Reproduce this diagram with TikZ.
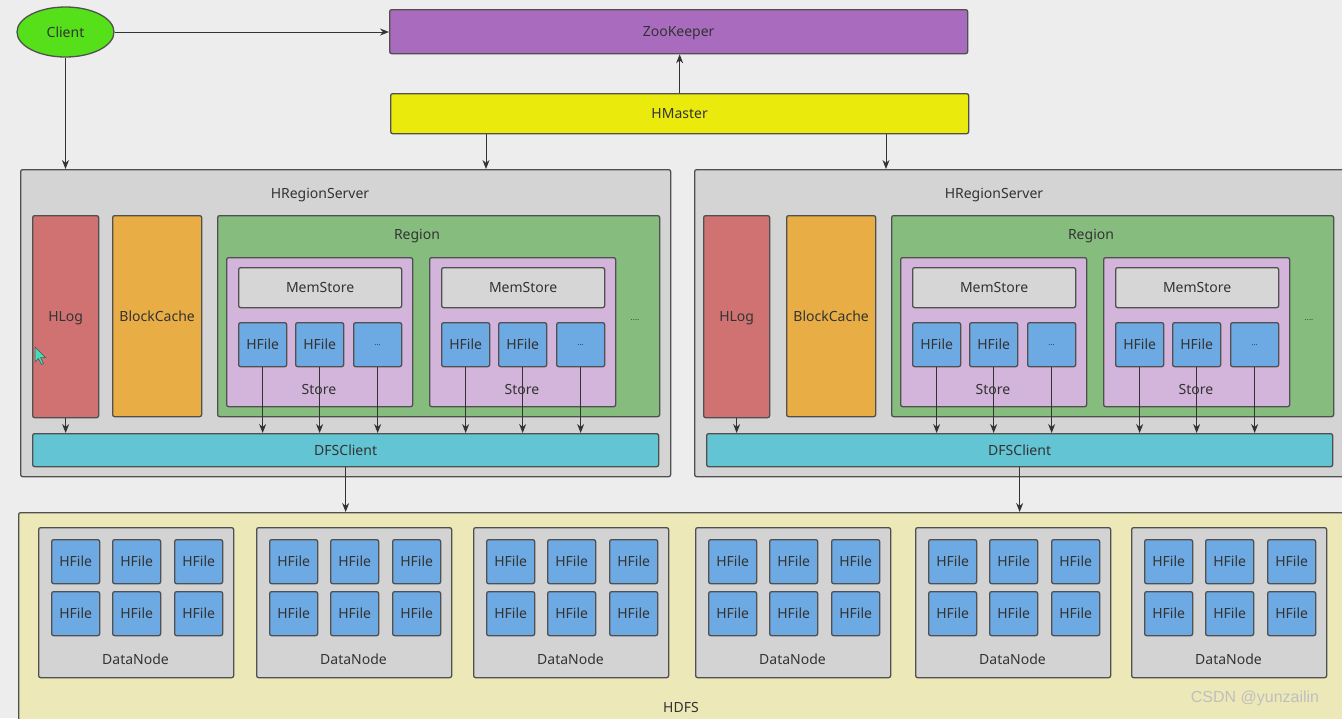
\documentclass[tikz,border=0pt]{standalone}
\usepackage{fontspec}
\setmainfont{Noto Sans}
\usetikzlibrary{arrows.meta,calc,shapes.geometric}
\definecolor{bgc}{HTML}{EDEDED}
\definecolor{linec}{HTML}{505050}
\definecolor{txtc}{HTML}{333333}
\definecolor{clientc}{HTML}{55E01A}
\definecolor{zkc}{HTML}{A96BBE}
\definecolor{hmc}{HTML}{EAEA0C}
\definecolor{rsc}{HTML}{D4D4D4}
\definecolor{hlogc}{HTML}{D07272}
\definecolor{bcc}{HTML}{E8AD45}
\definecolor{regc}{HTML}{86BD7E}
\definecolor{storec}{HTML}{D3B4DB}
\definecolor{memc}{HTML}{D6D6D6}
\definecolor{hfc}{HTML}{6DAAE3}
\definecolor{dfsc}{HTML}{63C4D3}
\definecolor{hdfsc}{HTML}{EDE8B8}
\definecolor{dnc}{HTML}{D3D3D3}
\definecolor{cursc}{HTML}{3FE0B8}
\newcommand\bx[7]{\node[box,fill=#6,minimum width=#4pt,minimum height=#5pt] (#1) at (#2,#3) {#7};}
\begin{document}
\begin{tikzpicture}[x=1pt,y=-1pt,
  box/.style={draw=linec,line width=1.3pt,rounded corners=2pt,inner sep=0pt,anchor=north west,text=txtc,font=\fontsize{14}{16}\selectfont,text depth=0pt},
  lbl/.style={text=txtc,font=\fontsize{14}{16}\selectfont,inner sep=0pt},
  dots/.style={font=\fontsize{8}{9}\selectfont},
  arr/.style={draw=txtc,line width=1pt,-{Stealth[length=9pt,width=7pt]}}]
\useasboundingbox (0,0) rectangle (1342,718);
\clip (0,0) rectangle (1342,718);
\fill[bgc] (0,0) rectangle (1342,718);

% top
\node[draw=linec,line width=1.3pt,fill=clientc,ellipse,minimum width=97pt,minimum height=50pt,inner sep=0pt,text=txtc,font=\fontsize{14}{16}\selectfont] (client) at (65.5,32) {Client};
\bx{zk}{389}{9}{578}{44}{zkc}{ZooKeeper}
\bx{hm}{390}{93}{578}{40}{hmc}{HMaster}

% region servers
\foreach \s/\o/\ho/\w in {1/0/0/650,2/674/671/660}{
  \bx{rs\s}{20+\o}{169}{\w}{307}{rsc}{}
  \node[lbl] (rsl\s) at (320+\o,195) {HRegionServer};
  \bx{hlog\s}{32+\ho}{215}{66}{202}{hlogc}{HLog}
  \bx{bc\s}{112+\o}{215}{89}{201}{bcc}{BlockCache}
  \bx{reg\s}{217+\o}{215}{442}{201}{regc}{}
  \node[lbl] (regl\s) at (417+\o,236) {Region};
  \node[lbl,dots] (regd\s) at (635+\o,320) {....};
  \foreach \st/\sx in {a/0,b/203}{
    \bx{st\s\st}{226+\o+\sx}{257}{186}{149}{storec}{}
    \node[lbl] (stl\s\st) at (319+\o+\sx,389) {Store};
    \bx{mem\s\st}{238+\o+\sx}{267}{163}{40}{memc}{MemStore}
  }
  \bx{dfs\s}{32+\o}{433}{626}{33}{dfsc}{DFSClient}
  \draw[arr] (hlog\s.south) -- (hlog\s.south |- dfs\s.north);
  \foreach \st/\sx in {a/0,b/203}{
    \foreach \k/\hx/\t in {1/0/HFile,2/57/HFile,3/115/{\fontsize{8}{9}\selectfont ...}}{
      \bx{hf\s\st\k}{238+\o+\sx+\hx}{322}{48}{44}{hfc}{\t}
      \draw[arr] (hf\s\st\k.south) -- (hf\s\st\k.south |- dfs\s.north);
    }
  }
}

% HDFS
\bx{hdfs}{18}{512}{1340}{230}{hdfsc}{}
\node[lbl] (hdfsl) at (681,707) {HDFS};
\foreach \d/\dx in {1/38,2/256,3/473,4/695,5/915,6/1131}{
  \bx{dn\d}{\dx}{527}{195}{150}{dnc}{}
  \node[lbl] (dnl\d) at (\dx+97.5,659) {DataNode};
  \foreach \r/\ry in {1/539,2/591}{
    \foreach \c/\cx in {1/13,2/74,3/136}{
      \bx{df\d\r\c}{\dx+\cx}{\ry}{48}{44}{hfc}{HFile}
    }
  }
}

% connectors
\draw[arr] (client.east) -- (zk.west |- client.east);
\draw[arr] (client.south) -- (client.south |- rs1.north);
\draw[arr] (hm.north) -- (hm.north |- zk.south);
\draw[arr] ([xshift=96pt]hm.south west) -- ([xshift=96pt]hm.south west |- rs1.north);
\draw[arr] ([xshift=496pt]hm.south west) -- ([xshift=496pt]hm.south west |- rs2.north);
\draw[arr] (dfs1.south) -- (dfs1.south |- hdfs.north);
\draw[arr] (dfs2.south) -- (dfs2.south |- hdfs.north);

% mouse cursor
\filldraw[fill=cursc,draw=linec,line width=0.5pt] (35,347) -- (35,362) -- (38.5,358.5) -- (41.5,364.5) -- (43.5,363.5) -- (40.5,357.5) -- (45.5,357.5) -- cycle;

% watermark
\node[text=white!50!gray,font=\fontsize{16}{18}\selectfont\fontspec{Liberation Sans},inner sep=0pt] (wm) at (1255,698) {CSDN @yunzailin};
\end{tikzpicture}
\end{document}
